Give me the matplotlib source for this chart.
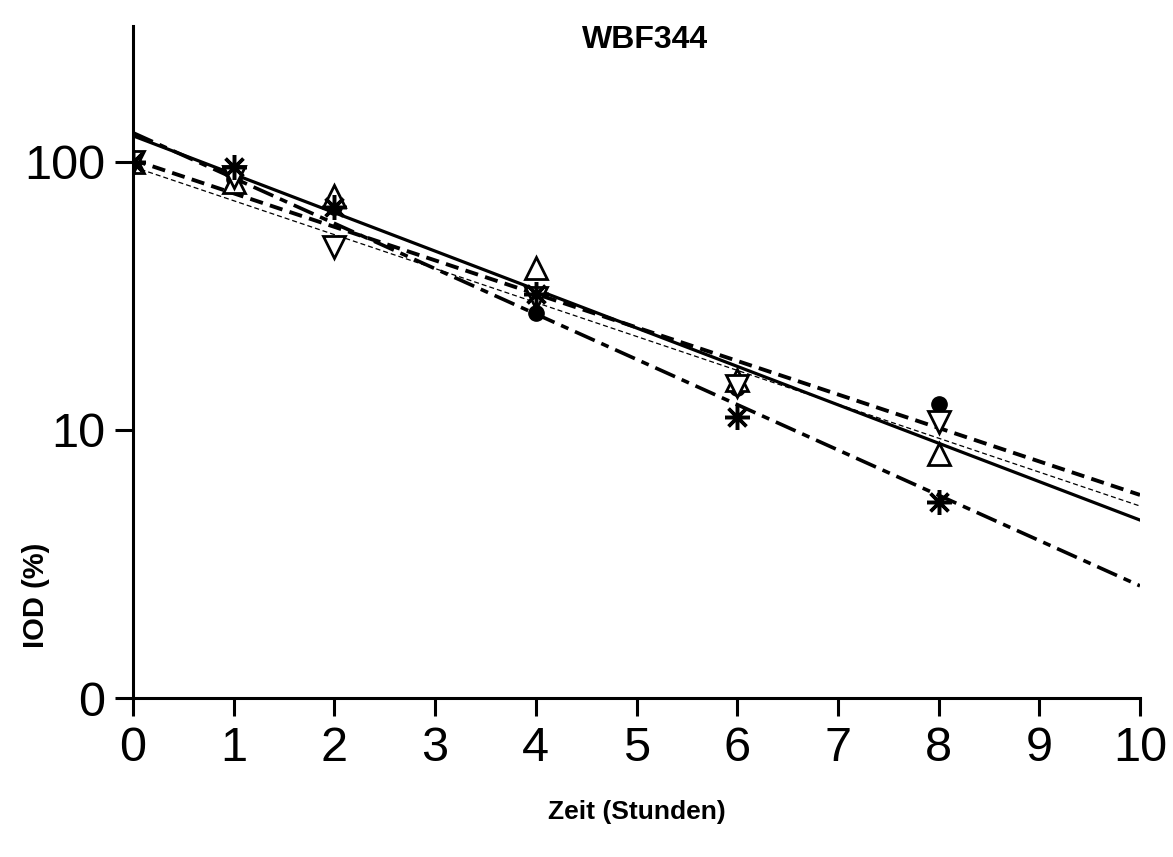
import numpy as np
import matplotlib
matplotlib.use('Agg')
import matplotlib.pyplot as plt

plt.rcParams['font.family'] = ['Liberation Sans', 'DejaVu Sans']

# measured time points (hours)
zeit = [0, 1, 2, 4, 6, 8]

# IOD (%) per series
iod_kreis = [100, 86, 68, 27.3, 14.3, 12.5]
iod_dreieck_auf = [100, 84, 74.5, 40, 15.3, 8.1]
iod_dreieck_ab = [100, 88, 48, 31, 14.6, 10.7]
iod_stern = [100, 96, 68, 32, 11.2, 5.4]

# regression lines, values read at t=0 and t=10
fit_x = [0, 10]
fit_kreis = [101.7, 5.72]
fit_dreieck_auf = [125, 4.61]
fit_dreieck_ab = [95.8, 5.2]
fit_stern = [128.3, 2.62]

y_ticks = [1, 10, 100]
y_ticklabels = ['0', '10', '100']
x_ticks = list(range(0, 11))

fig = plt.figure(figsize=(11.73, 8.57), dpi=100)
ax = fig.add_axes([133 / 1173, 1 - 698 / 857, (1140 - 133) / 1173, (698 - 26) / 857])

# fit lines
ax.plot(fit_x, fit_kreis, color='black', lw=2.8, dashes=(3.4, 1.9), zorder=2)
ax.plot(fit_x, fit_dreieck_auf, color='black', lw=2.3, zorder=2)
ax.plot(fit_x, fit_dreieck_ab, color='black', lw=0.9, dashes=(4, 2.4), zorder=2)
ax.plot(fit_x, fit_stern, color='black', lw=2.6, dashes=(6, 2, 2.2, 2), zorder=2)

# data points
ax.plot(zeit, iod_kreis, 'o', color='black', ms=11, ls='none', zorder=3)
ax.plot(zeit, iod_dreieck_auf, '^', mfc='white', mec='black', mew=2, ms=16, ls='none', zorder=3)
ax.plot(zeit, iod_dreieck_ab, 'v', mfc='white', mec='black', mew=2, ms=16, ls='none', zorder=3)
ax.plot(zeit, iod_stern, marker=(8, 2, 0), color='black', mew=2.5, ms=18, ls='none', zorder=4)

ax.set_yscale('log')
ax.set_ylim(1, 321)
ax.set_xlim(0, 10)
ax.set_yticks(y_ticks)
ax.set_yticklabels(y_ticklabels)
ax.yaxis.set_minor_locator(matplotlib.ticker.NullLocator())
ax.set_xticks(x_ticks)

for side in ['top', 'right']:
    ax.spines[side].set_visible(False)
for side in ['left', 'bottom']:
    ax.spines[side].set_linewidth(2.2)
ax.tick_params(direction='out', length=13, width=2.2, labelsize=35, pad=7)

ax.set_xlabel('Zeit (Stunden)', fontsize=19, fontweight='bold')
ax.xaxis.set_label_coords(0.5, -0.152)
ax.set_ylabel('IOD (%)', fontsize=21, fontweight='bold')
ax.yaxis.set_label_coords(-0.082, 0.153)

fig.text(645 / 1173, 1 - 40 / 857, 'WBF344', ha='center', va='center',
         fontsize=23, fontweight='bold')

fig.savefig('out.png', dpi=100)
